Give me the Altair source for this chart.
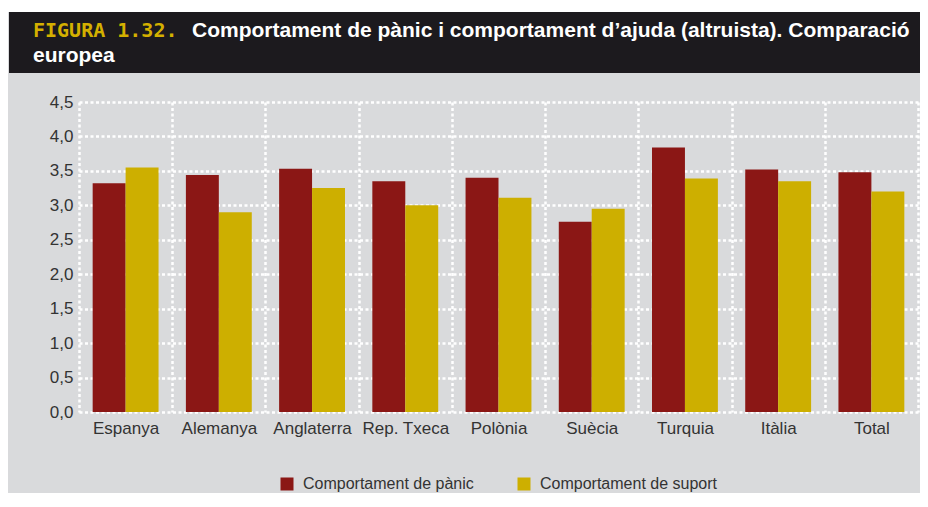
import altair as alt
import pandas as pd

countries = ["Espanya", "Alemanya", "Anglaterra", "Rep. Txeca", "Polònia",
             "Suècia", "Turquia", "Itàlia", "Total"]
panic = [3.32, 3.44, 3.53, 3.35, 3.40, 2.76, 3.84, 3.52, 3.48]
suport = [3.55, 2.90, 3.25, 3.00, 3.11, 2.95, 3.39, 3.35, 3.20]
series = ["Comportament de pànic", "Comportament de suport"]
colors = ["#8B1715", "#CDAF00"]
y_ticks = [0, 0.5, 1, 1.5, 2, 2.5, 3, 3.5, 4, 4.5]

title_tag = "FIGURA 1.32."
title_line1 = "Comportament de pànic i comportament d’ajuda (altruista). Comparació"
title_line2 = "europea"

rows = []
for c, p, s in zip(countries, panic, suport):
    rows.append({"country": c, "series": series[0], "value": p})
    rows.append({"country": c, "series": series[1], "value": s})
df = pd.DataFrame(rows)

W, H = 839, 310
FONT = "Liberation Sans"
TFONT = "Liberation Sans"

bars = alt.Chart(df).mark_bar().encode(
    x=alt.X("country:N", sort=countries, title=None,
            scale=alt.Scale(paddingInner=0, paddingOuter=0),
            axis=alt.Axis(grid=True, tickBand="extent", ticks=False, domain=False,
                          labelAngle=0, labelFontSize=17, labelColor="#333333",
                          labelFont=FONT, labelPadding=8,
                          gridColor="white", gridWidth=2.5, gridDash=[3, 2.5], gridOpacity=1)),
    xOffset=alt.XOffset("series:N", sort=series,
                        scale=alt.Scale(paddingInner=0, paddingOuter=0.415)),
    y=alt.Y("value:Q", title=None,
            scale=alt.Scale(domain=[0, 4.5], nice=False, zero=True),
            axis=alt.Axis(values=y_ticks, ticks=False, domain=False, grid=True,
                          labelExpr="replace(format(datum.value, '.1f'), '.', ',')",
                          labelFontSize=17, labelColor="#333333", labelFont=FONT,
                          labelPadding=6,
                          gridColor="white", gridWidth=2.5, gridDash=[3, 2.5], gridOpacity=1)),
    color=alt.Color("series:N", sort=series,
                    scale=alt.Scale(domain=series, range=colors),
                    legend=alt.Legend(title=None, orient="none", direction="horizontal",
                                      legendX=200, legendY=374, symbolType="square",
                                      symbolSize=169, symbolStrokeWidth=0, symbolOpacity=1,
                                      labelFontSize=16, labelColor="#333333", labelFont=FONT,
                                      labelOffset=8, labelLimit=400, columnPadding=42,
                                      padding=0)),
)

# decorative header band
deco = pd.DataFrame({"k": [0]})
white_strip = alt.Chart(deco).mark_rect(color="white").encode(
    x=alt.value(-72), x2=alt.value(W + 10), y=alt.value(-95), y2=alt.value(-90))
black_band = alt.Chart(deco).mark_rect(color="#1C1A1E").encode(
    x=alt.value(-70), x2=alt.value(W + 10), y=alt.value(-90), y2=alt.value(-29))

tag = alt.Chart(pd.DataFrame({"t": [title_tag]})).mark_text(
    align="left", baseline="alphabetic", font="DejaVu Sans Mono", fontWeight="bold",
    fontSize=20, color="#D4B000").encode(
    x=alt.value(-46), y=alt.value(-65), text="t:N")
line1 = alt.Chart(pd.DataFrame({"t": [title_line1]})).mark_text(
    align="left", baseline="alphabetic", font=TFONT, fontWeight="bold",
    fontSize=21, color="white").encode(
    x=alt.value(113), y=alt.value(-65), text="t:N")
line2 = alt.Chart(pd.DataFrame({"t": [title_line2]})).mark_text(
    align="left", baseline="alphabetic", font=TFONT, fontWeight="bold",
    fontSize=21, color="white").encode(
    x=alt.value(-46), y=alt.value(-40), text="t:N")

chart = alt.layer(white_strip, black_band, tag, line1, line2, bars).properties(
    width=W, height=H,
    autosize=alt.AutoSizeParams(type="none"),
    padding={"left": 71, "top": 94, "right": 2, "bottom": 81},
    background="#D9DADC",
).configure_view(stroke=None)

chart.save("out.html", embed_options={"renderer": "svg", "actions": False})
